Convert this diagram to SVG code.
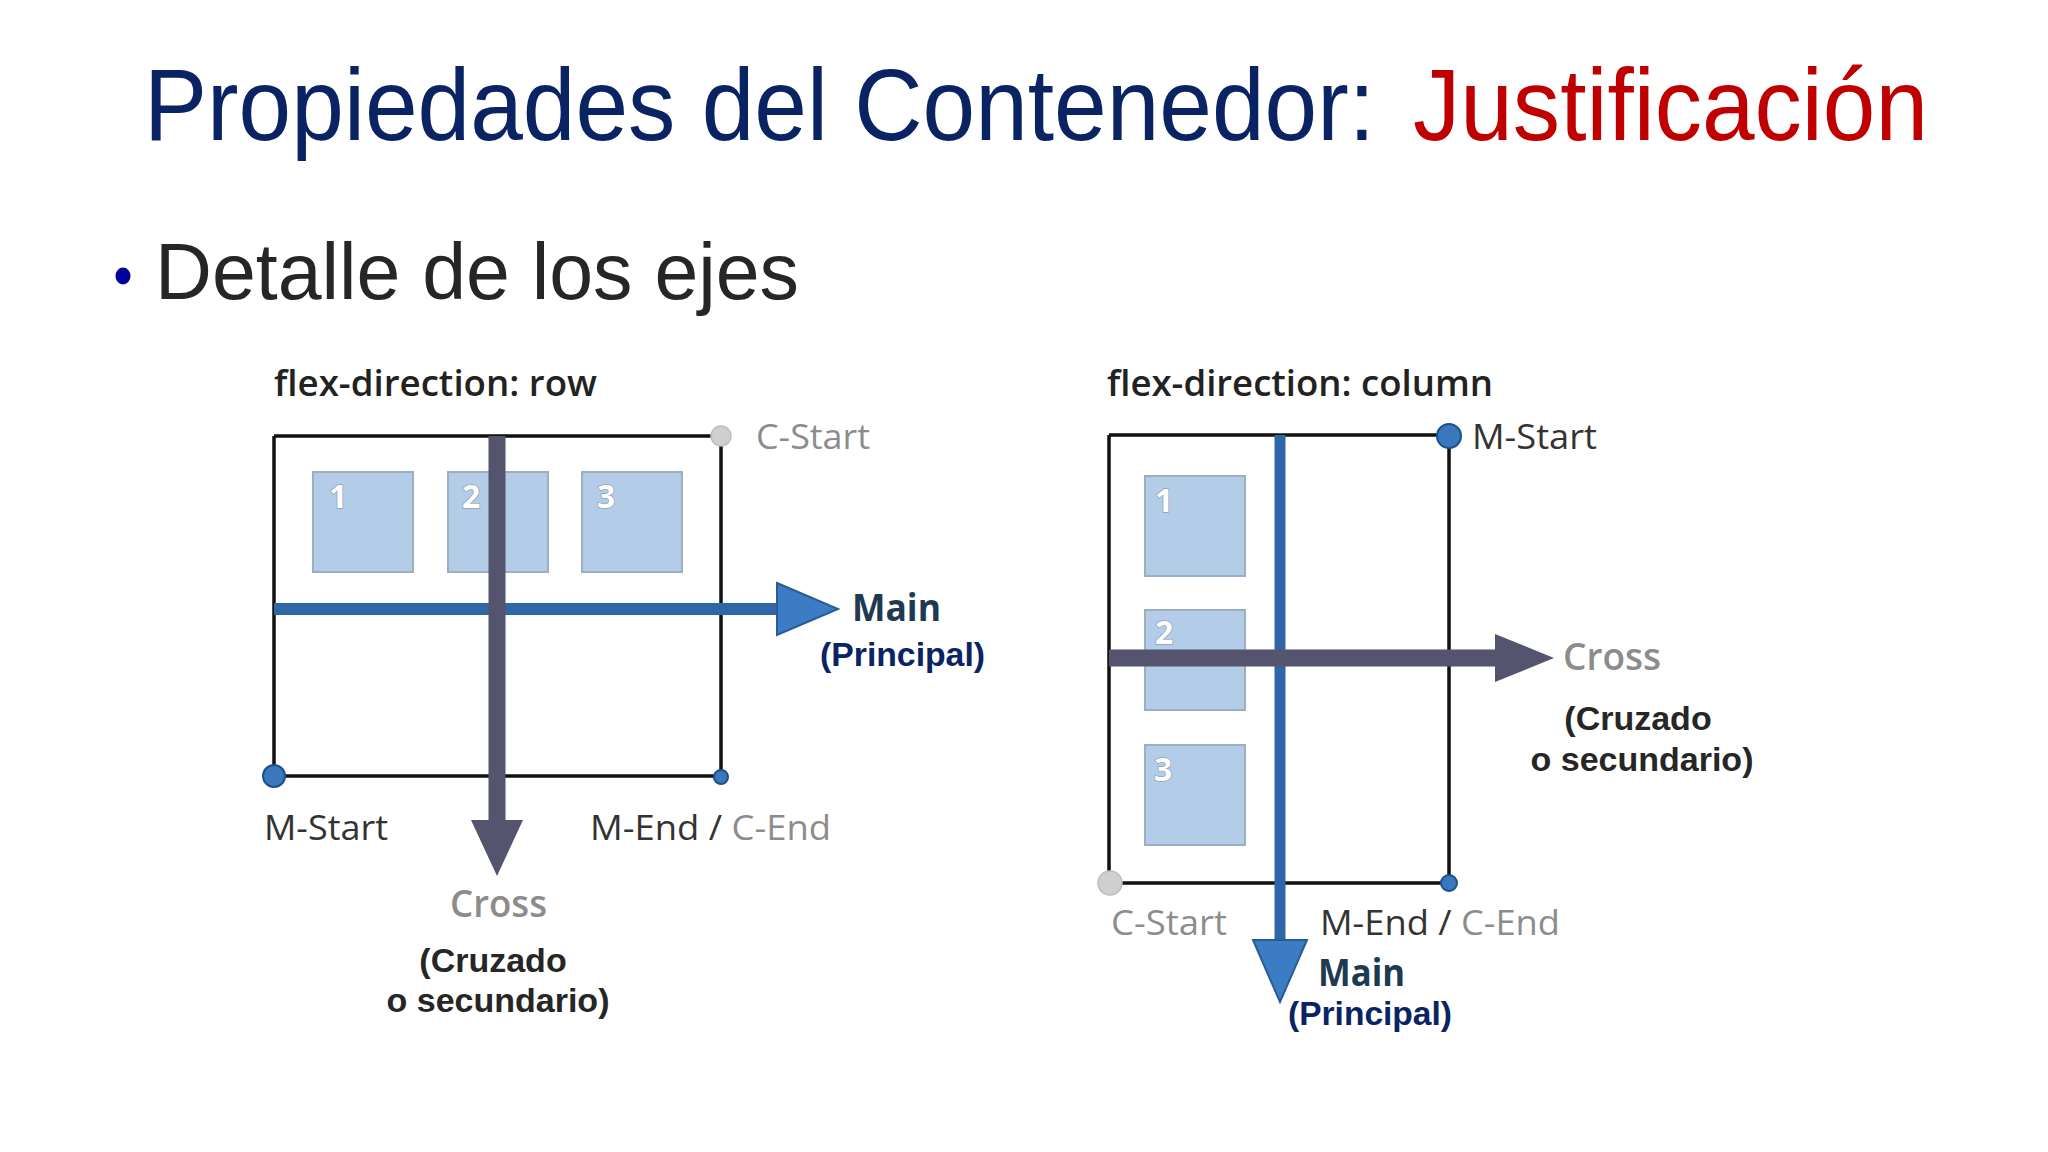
<svg xmlns="http://www.w3.org/2000/svg" width="2048" height="1152" viewBox="0 0 2048 1152">
<style>
.ar{font-family:"Liberation Sans",Arial,sans-serif}
.os{font-family:"Open Sans","Noto Sans",sans-serif}
.hdr{font-size:36px;font-weight:600;fill:#222}
.lbl{font-size:35px;fill:#333}
.gry{fill:#8c8c8c}
.bmain{font-size:37px;font-weight:700;fill:#1e3a52}
.bcross{font-size:37px;font-weight:600;fill:#8c8c8c}
.prin{font-size:34px;font-weight:700;fill:#0a2463}
.cruz{font-size:34px;font-weight:700;fill:#262626}
.box{fill:none;stroke:#111;stroke-width:3.5}
.sq{fill:#b3cde8;stroke:#9aafc4;stroke-width:2}
.num{font-size:32px;font-weight:700;fill:#fff;stroke:#8fa3b8;stroke-width:1.5;paint-order:stroke}
.dotb{fill:#3a78be;stroke:#1f4f8a;stroke-width:2}
.dotg{fill:#cfcfcf;stroke:#bdbdbd;stroke-width:1.5}
.mainln{stroke:#2e66a6;fill:none}
.mainhd{fill:#3b7cc4;stroke:#2a5c96;stroke-width:2}
.crossln{stroke:#54546e;fill:none}
.crosshd{fill:#54546e}
.ttl{font-size:95px}
</style>
<rect width="2048" height="1152" fill="#fff"/>

<g id="title">
<text class="ar ttl" transform="translate(144,140) scale(1,1.074)" x="0" y="0" fill="#0a2463" textLength="1231" lengthAdjust="spacingAndGlyphs">Propiedades del Contenedor:</text>
<text class="ar ttl" transform="translate(1413,140) scale(1,1.074)" x="0" y="0" fill="#c00000" textLength="515" lengthAdjust="spacingAndGlyphs">Justificación</text>
</g>

<g id="subtitle">
<ellipse cx="123" cy="276" rx="7.5" ry="8.5" fill="#00009a"/>
<text class="ar" x="155" y="299" font-size="79" fill="#262626" textLength="644" lengthAdjust="spacingAndGlyphs">Detalle de los ejes</text>
</g>

<!-- Left diagram: row -->
<g id="row-diagram">
<text class="os hdr" x="274" y="396" textLength="323" lengthAdjust="spacingAndGlyphs">flex-direction: row</text>
<path class="box" d="M274,436 H712 M721,446 V776 H274 V436"/>
<g id="row-item-1"><rect class="sq" x="313" y="472" width="100" height="100"/><text class="os num" x="329" y="508">1</text></g>
<g id="row-item-2"><rect class="sq" x="448" y="472" width="100" height="100"/><text class="os num" x="462" y="508">2</text></g>
<g id="row-item-3"><rect class="sq" x="582" y="472" width="100" height="100"/><text class="os num" x="597" y="508">3</text></g>
<circle class="dotg" cx="721" cy="436" r="10"/>
<circle class="dotb" cx="274" cy="776" r="11"/>
<circle class="dotb" cx="721" cy="777" r="7"/>
<text class="os lbl gry" x="756" y="449" textLength="114" lengthAdjust="spacingAndGlyphs">C-Start</text>
<text class="os lbl" x="264" y="840" textLength="124" lengthAdjust="spacingAndGlyphs">M-Start</text>
<text class="os lbl" x="590" y="840" textLength="241" lengthAdjust="spacingAndGlyphs">M-End / <tspan class="gry">C-End</tspan></text>
<text class="os bmain" x="852" y="621" textLength="89" lengthAdjust="spacingAndGlyphs">Main</text>
<text class="ar prin" x="820" y="666" textLength="165" lengthAdjust="spacingAndGlyphs">(Principal)</text>
<text class="os bcross" x="450" y="917" textLength="97" lengthAdjust="spacingAndGlyphs">Cross</text>
<text class="ar cruz" x="493" y="972" text-anchor="middle">(Cruzado</text>
<text class="ar cruz" x="498" y="1012" text-anchor="middle">o secundario)</text>
</g>

<!-- Right diagram: column -->
<g id="column-diagram">
<text class="os hdr" x="1107" y="396" textLength="386" lengthAdjust="spacingAndGlyphs">flex-direction: column</text>
<path class="box" d="M1109,435 H1440 M1449,445 V883 H1120 M1109,873 V435"/>
<g id="col-item-1"><rect class="sq" x="1145" y="476" width="100" height="100"/><text class="os num" x="1155" y="512">1</text></g>
<g id="col-item-2"><rect class="sq" x="1145" y="610" width="100" height="100"/><text class="os num" x="1155" y="644">2</text></g>
<g id="col-item-3"><rect class="sq" x="1145" y="745" width="100" height="100"/><text class="os num" x="1154" y="781">3</text></g>
<circle class="dotb" cx="1449" cy="436" r="12"/>
<circle class="dotg" cx="1110" cy="883" r="12"/>
<circle class="dotb" cx="1449" cy="883" r="8"/>
<text class="os lbl" x="1472" y="449" textLength="125" lengthAdjust="spacingAndGlyphs">M-Start</text>
<text class="os lbl gry" x="1111" y="935" textLength="116" lengthAdjust="spacingAndGlyphs">C-Start</text>
<text class="os lbl" x="1320" y="935" textLength="240" lengthAdjust="spacingAndGlyphs">M-End / <tspan class="gry">C-End</tspan></text>
<text class="os bcross" x="1563" y="670" textLength="98" lengthAdjust="spacingAndGlyphs">Cross</text>
<text class="ar cruz" x="1638" y="730" text-anchor="middle">(Cruzado</text>
<text class="ar cruz" x="1642" y="771" text-anchor="middle">o secundario)</text>
<text class="os bmain" x="1318" y="986" textLength="87" lengthAdjust="spacingAndGlyphs">Main</text>
<text class="ar prin" x="1288" y="1025" textLength="164" lengthAdjust="spacingAndGlyphs">(Principal)</text>
</g>

<g id="connectors">
<!-- left: main axis (horizontal) -->
<line class="mainln" x1="274" y1="609" x2="782" y2="609" stroke-width="12"/>
<polygon class="mainhd" points="777,583 838,609 777,635"/>
<!-- left: cross axis (vertical) -->
<line class="crossln" x1="497" y1="436" x2="497" y2="824" stroke-width="17"/>
<polygon class="crosshd" points="471,820 523,820 497,876"/>
<!-- right: main axis (vertical) -->
<line class="mainln" x1="1280" y1="435" x2="1280" y2="944" stroke-width="11"/>
<polygon class="mainhd" points="1253,940 1307,940 1280,1002"/>
<!-- right: cross axis (horizontal) -->
<line class="crossln" x1="1109" y1="658" x2="1499" y2="658" stroke-width="17"/>
<polygon class="crosshd" points="1495,634 1554,658 1495,682"/>
</g>
</svg>
